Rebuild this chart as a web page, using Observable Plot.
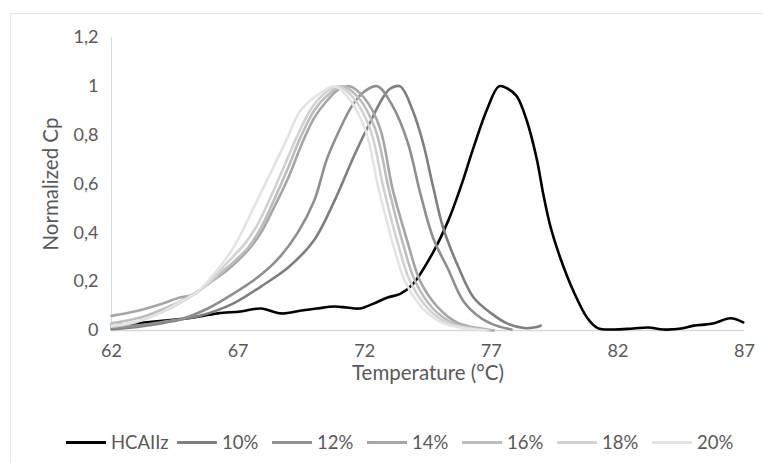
<!DOCTYPE html>
<html>
<head>
<meta charset="utf-8">
<script src="https://cdn.jsdelivr.net/npm/d3@7"></script>
<script src="https://cdn.jsdelivr.net/npm/@observablehq/plot@0.6"></script>
<style>
  html, body { margin: 0; padding: 0; background: #fff; }
  body { width: 763px; height: 463px; position: relative; overflow: hidden; font-family: Lato, "Open Sans", sans-serif; }
  #frame { position: absolute; left: 10px; top: 13px; width: 800px; height: 500px; border-left: 1px solid #e6e6e6; border-top: 1px solid #e6e6e6; }
  #chart { position: absolute; left: 0; top: 0; }
  #legend { position: absolute; left: 66px; top: 431px; display: flex; align-items: center; font-size: 18.5px; color: #595959; }
  .item { display: flex; align-items: center; width: 95px; }
  .item.first { width: 111px; }
  .swatch { width: 40px; height: 3px; margin-right: 5px; flex: none; }
</style>
</head>
<body>
<div id="frame"></div>
<div id="chart"></div>
<div id="legend"></div>
<script>
// ---- data ----
const seriesNames = ["HCAIIz", "10%", "12%", "14%", "16%", "18%", "20%"];
const seriesColors = ["#000000", "#7f7f7f", "#8f8f8f", "#a6a6a6", "#bdbdbd", "#d2d2d2", "#e4e4e4"];

const xTicks = [62, 67, 72, 77, 82, 87];
const yTicks = [0, 0.2, 0.4, 0.6, 0.8, 1, 1.2];

const hcaTemp = [62, 63, 64, 65, 66.2, 67.1, 67.9, 68.7, 69.5, 70.1, 70.8, 71.3, 71.8, 72.35, 72.9, 73.4, 73.9, 74.7, 75.3, 75.8, 76.3, 76.85, 77.3, 77.65, 78.0, 78.4, 78.8, 79.05, 79.35, 79.75, 80.25, 80.8, 81.2, 81.8, 82.6, 83.2, 83.8, 84.5, 85.0, 85.5, 85.8, 86.45, 86.95];
const hcaVal  = [0.02, 0.03, 0.04, 0.05, 0.07, 0.078, 0.09, 0.07, 0.082, 0.09, 0.098, 0.094, 0.09, 0.11, 0.135, 0.15, 0.19, 0.32, 0.45, 0.59, 0.75, 0.91, 1.0, 0.99, 0.96, 0.86, 0.70, 0.56, 0.42, 0.29, 0.16, 0.05, 0.01, 0.004, 0.008, 0.012, 0.004, 0.008, 0.02, 0.025, 0.03, 0.05, 0.033];

const p10Temp = [62, 63, 64, 65, 65.5, 66.8, 67.9, 69.0, 70.0, 70.8, 71.6, 72.2, 72.7, 73.0, 73.4, 73.9, 74.3, 74.7, 75.1, 75.7, 76.3, 77.0, 77.6, 78.3, 78.8, 78.95];
const p10Val  = [0.005, 0.015, 0.03, 0.05, 0.06, 0.11, 0.18, 0.26, 0.37, 0.53, 0.72, 0.85, 0.95, 0.99, 1.0, 0.9, 0.77, 0.59, 0.42, 0.26, 0.135, 0.07, 0.03, 0.01, 0.014, 0.02];

const p12Temp = [62, 63, 64, 64.85, 65.8, 66.8, 67.8, 68.55, 69.35, 70.0, 70.5, 71.0, 71.5, 72.0, 72.5, 73.1, 73.7, 74.2, 74.7, 75.3, 75.9, 76.6, 77.2, 77.8];
const p12Val  = [0.01, 0.02, 0.035, 0.05, 0.09, 0.15, 0.22, 0.29, 0.40, 0.53, 0.70, 0.82, 0.92, 0.98, 1.0, 0.92, 0.77, 0.56, 0.38, 0.25, 0.12, 0.05, 0.02, 0.004];

const p14Temp = [62, 63, 64, 64.7, 65.2, 65.8, 66.6, 67.4, 67.9, 68.4, 69.0, 69.5, 70.0, 70.5, 71.0, 71.4, 72.0, 72.6, 73.1, 73.7, 74.2, 74.9, 75.7, 76.6, 77.1];
const p14Val  = [0.06, 0.08, 0.11, 0.135, 0.145, 0.19, 0.25, 0.33, 0.40, 0.50, 0.63, 0.76, 0.87, 0.94, 0.99, 1.0, 0.95, 0.83, 0.58, 0.36, 0.2, 0.094, 0.03, 0.008, 0.0];

const p16Temp = [62, 63.15, 64.2, 65.0, 65.8, 66.6, 67.4, 67.9, 68.4, 68.95, 69.46, 70.0, 70.5, 71.1, 71.7, 72.4, 72.95, 73.5, 74.0, 74.7, 75.5, 76.4, 77.0];
const p16Val  = [0.03, 0.053, 0.094, 0.135, 0.19, 0.26, 0.34, 0.42, 0.53, 0.66, 0.79, 0.9, 0.96, 1.0, 0.96, 0.83, 0.58, 0.36, 0.2, 0.09, 0.03, 0.008, 0.0];

const p18Temp = [62, 63, 64, 65, 65.8, 66.5, 67.3, 67.8, 68.3, 68.85, 69.35, 69.9, 70.4, 70.95, 71.5, 72.2, 72.75, 73.3, 73.8, 74.5, 75.3, 76.2, 76.9];
const p18Val  = [0.015, 0.035, 0.075, 0.13, 0.19, 0.27, 0.36, 0.44, 0.55, 0.68, 0.8, 0.91, 0.97, 1.0, 0.96, 0.83, 0.58, 0.36, 0.2, 0.09, 0.03, 0.008, 0.0];

const p20Temp = [62, 62.63, 63.66, 64.6, 65.4, 66.19, 66.82, 67.37, 67.88, 68.4, 68.95, 69.46, 70.37, 70.8, 71.3, 72.0, 72.55, 73.1, 73.6, 74.3, 75.1, 76.0, 76.8];
const p20Val  = [0.02, 0.03, 0.06, 0.11, 0.16, 0.25, 0.34, 0.45, 0.56, 0.67, 0.79, 0.9, 0.98, 1.0, 0.96, 0.83, 0.58, 0.36, 0.2, 0.09, 0.03, 0.008, 0.0];

// ---- build table ----
const temps = [hcaTemp, p10Temp, p12Temp, p14Temp, p16Temp, p18Temp, p20Temp];
const vals  = [hcaVal, p10Val, p12Val, p14Val, p16Val, p18Val, p20Val];
const rows = seriesNames.flatMap((name, k) => temps[k].map((t, i) => ({series: name, t, v: vals[k][i]})));

const fmt = d => String(d).replace(".", ",");

const chart = Plot.plot({
  width: 763,
  height: 400,
  marginLeft: 111,
  marginRight: 19,
  marginTop: 37,
  marginBottom: 70,
  style: {fontFamily: "Lato, 'Open Sans', sans-serif", fontSize: "18px", color: "#595959", background: "transparent"},
  x: {domain: [62, 87]},
  y: {domain: [0, 1.2]},
  color: {domain: seriesNames, range: seriesColors},
  marks: [
    Plot.ruleX([62], {stroke: "#d9d9d9", strokeWidth: 1}),
    Plot.ruleY([0], {stroke: "#d9d9d9", strokeWidth: 1.5}),
    Plot.axisX({ticks: xTicks, tickSize: 0, tickPadding: 14, label: null, fill: "#595959", fontSize: 18}),
    Plot.axisY({ticks: yTicks, tickSize: 0, tickPadding: 13, label: null, tickFormat: fmt, fill: "#595959", fontSize: 18}),
    Plot.text(["Temperature (°C)"], {frameAnchor: "bottom", dy: 43, lineAnchor: "middle", textAnchor: "middle", text: d => d, fill: "#595959", fontSize: 20.5}),
    Plot.text(["Normalized Cp"], {frameAnchor: "left", dx: -60, rotate: -90, lineAnchor: "middle", textAnchor: "middle", text: d => d, fill: "#595959", fontSize: 20.5}),
    Plot.line(rows, {x: "t", y: "v", z: "series", stroke: "series", strokeWidth: 2.6, curve: "catmull-rom"})
  ]
});
document.getElementById("chart").appendChild(chart);

// legend (HTML, below the svg)
const legend = document.getElementById("legend");
seriesNames.forEach((name, k) => {
  const item = document.createElement("div");
  item.className = "item" + (k === 0 ? " first" : "");
  const sw = document.createElement("div");
  sw.className = "swatch";
  sw.style.background = seriesColors[k];
  const lab = document.createElement("span");
  lab.textContent = name;
  item.appendChild(sw);
  item.appendChild(lab);
  legend.appendChild(item);
});
</script>
</body>
</html>
